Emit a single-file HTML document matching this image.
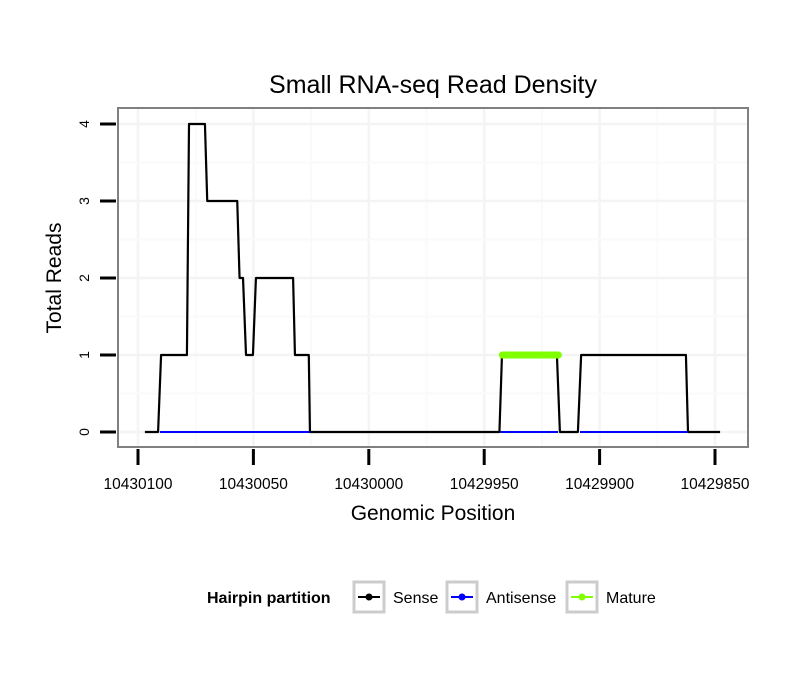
<!DOCTYPE html>
<html><head><meta charset="utf-8"><style>
body{margin:0;background:#fff;font-family:"Liberation Sans",sans-serif}
</style></head><body>
<svg id="c" width="810" height="690" xmlns="http://www.w3.org/2000/svg" font-family="Liberation Sans, sans-serif"></svg>
<script>
const senseX=[10430097,10430091.3,10430090,10430078.8,10430077.9,10430071,10430070,10430057,10430056,10430054.5,10430053.2,10430050.2,10430048.9,10430032.8,10430032,10430026,10430025.5,10429943.4,10429942.3,10429918.5,10429917.2,10429909.4,10429908,10429862.6,10429861.7,10429847.8];
const senseY=[0,0,1,1,4,4,3,3,2,2,1,1,2,2,1,1,0,0,1,1,0,0,1,1,0,0];
const antiStart=[10430090.5,10429943,10429908.5];
const antiEnd=[10430025.5,10429918,10429862];
const matureStart=[10429943];
const matureEnd=[10429917];
const matureVal=[1];
const xTicks=[10430100,10430050,10430000,10429950,10429900,10429850];
const yTicks=[0,1,2,3,4];
const NS="http://www.w3.org/2000/svg";
const svg=document.getElementById('c');
const L=118,R=748,T=108,B=447;
const X=v=>138+(10430100-v)*2.308;
const Y=v=>432-v*77;
function el(t,a,p){const e=document.createElementNS(NS,t);for(const k in a)e.setAttribute(k,a[k]);(p||svg).appendChild(e);return e;}
const bg=el('rect',{x:L,y:T,width:R-L,height:B-T,fill:'#fff'});


for(let i=0;i<xTicks.length;i++){
  const g=el('line',{x1:X(xTicks[i]),x2:X(xTicks[i]),y1:T,y2:B,stroke:'#f4f4f4','stroke-width':2.5});
  
  
  if(i<xTicks.length-1){const m=(xTicks[i]+xTicks[i+1])/2;
    const g2=el('line',{x1:X(m),x2:X(m),y1:T,y2:B,stroke:'#fafafa','stroke-width':2});
    
    }
}
for(let i=0;i<yTicks.length;i++){
  const g=el('line',{x1:L,x2:R,y1:Y(yTicks[i]),y2:Y(yTicks[i]),stroke:'#f4f4f4','stroke-width':2.5});
  
  
  if(i<yTicks.length-1){const m=(yTicks[i]+yTicks[i+1])/2;
    const g2=el('line',{x1:L,x2:R,y1:Y(m),y2:Y(m),stroke:'#fafafa','stroke-width':2});
    
    }
}
const sp=el('polyline',{points:senseX.map((v,i)=>X(v)+','+Y(senseY[i])).join(' '),fill:'none',stroke:'#000','stroke-width':2.2,'stroke-linejoin':'round'});


for(let i=0;i<antiStart.length;i++){
  const a=el('line',{x1:X(antiStart[i]),x2:X(antiEnd[i]),y1:Y(0),y2:Y(0),stroke:'#0000ff','stroke-width':2});
  
  
}
for(let i=0;i<matureStart.length;i++){
  const m=el('line',{x1:X(matureStart[i])+2,x2:X(matureEnd[i])-2,y1:Y(matureVal[i]),y2:Y(matureVal[i]),stroke:'#7fff00','stroke-width':7,'stroke-linecap':'round'});
  
  
}
const bd=el('rect',{x:L,y:T,width:R-L,height:B-T,fill:'none',stroke:'#808080','stroke-width':2});


xTicks.forEach(v=>{
  const t=el('line',{x1:X(v),x2:X(v),y1:449,y2:465,stroke:'#000','stroke-width':3});
  
  
  const l=el('text',{x:X(v),y:489,'text-anchor':'middle','font-size':15.5});
  l.textContent=v;
  
  
});
yTicks.forEach(v=>{
  const t=el('line',{x1:100,x2:116,y1:Y(v),y2:Y(v),stroke:'#000','stroke-width':3});
  
  
  const l=el('text',{x:0,y:0,'text-anchor':'middle','font-size':14,transform:`translate(89,${Y(v)}) rotate(-90)`});
  l.textContent=v;
  
  
});
const ti=el('text',{x:433,y:93,'text-anchor':'middle','font-size':25});
ti.textContent='Small RNA-seq Read Density';


const xt=el('text',{x:433,y:520,'text-anchor':'middle','font-size':21});
xt.textContent='Genomic Position';


const yt=el('text',{x:0,y:0,'text-anchor':'middle','font-size':21,transform:'translate(61,278) rotate(-90)'});
yt.textContent='Total Reads';


const lt=el('text',{x:207,y:603,'font-size':16,'font-weight':'bold'});
lt.textContent='Hairpin partition';


const legNames=['Sense','Antisense','Mature'];
const legCols=['#000','#0000ff','#7fff00'];
const legX=[354,447,567];
legNames.forEach((n,i)=>{
  const g=el('g',{});
  
  
  el('rect',{x:legX[i],y:582,width:30,height:30,fill:'#fff',stroke:'#cccccc','stroke-width':3},g);
  el('line',{x1:legX[i]+4,x2:legX[i]+26,y1:597,y2:597,stroke:legCols[i],'stroke-width':2},g);
  el('circle',{cx:legX[i]+15,cy:597,r:3.5,fill:legCols[i]},g);
  const t=el('text',{x:legX[i]+39,y:603,'font-size':16},g);
  t.textContent=n;
});
</script>
</body></html>
